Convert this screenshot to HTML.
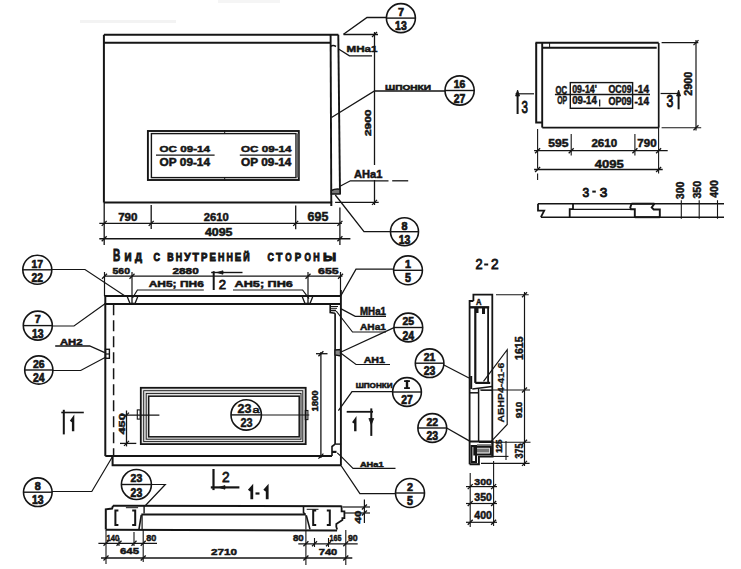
<!DOCTYPE html>
<html><head><meta charset="utf-8"><style>
html,body{margin:0;padding:0;background:#fff;}
svg{display:block;}
</style></head><body>
<svg width="741" height="569" viewBox="0 0 741 569">
<rect width="741" height="569" fill="#ffffff"/>
<rect x="80" y="20" width="96" height="3" fill="#f3f3f3"/>
<rect x="218" y="0" width="62" height="3" fill="#f5f5f5"/>
<polyline points="103.9,34.8 338.4,34.8" fill="none" stroke="#151515" stroke-width="2.0"/>
<polyline points="103.9,42.8 330.6,42.8" fill="none" stroke="#151515" stroke-width="2.0"/>
<polyline points="103.9,34.8 103.9,202.6" fill="none" stroke="#151515" stroke-width="2.0"/>
<polyline points="103.9,202.6 331.3,202.6 331.3,206.0" fill="none" stroke="#151515" stroke-width="2.0"/>
<polyline points="330.6,34.8 331.3,202.6" fill="none" stroke="#151515" stroke-width="1.9"/>
<polyline points="338.3,34.8 340.0,194.0" fill="none" stroke="#151515" stroke-width="1.9"/>
<path d="M330.6,46.5 Q333,44.5 336,46.5" fill="none" stroke="#151515" stroke-width="1.6"/>
<path d="M331.3,194 L331.3,190.5 Q335,188.5 340,189.2 L340,194 Z" fill="#777" stroke="#151515" stroke-width="1.5"/>
<rect x="147.9" y="131.0" width="150.9" height="49.0" fill="none" stroke="#151515" stroke-width="1.9"/>
<rect x="151.4" y="133.6" width="144.6" height="44.0" fill="none" stroke="#151515" stroke-width="1.4"/>
<rect x="296" y="133.5" width="2.5" height="44" fill="#666"/>
<polyline points="224.7,130.3 224.7,133.3" fill="none" stroke="#151515" stroke-width="1.0"/>
<polyline points="224.7,177.4 224.7,180.1" fill="none" stroke="#151515" stroke-width="1.0"/>
<text x="159.5" y="152.1" font-family="Liberation Sans" font-weight="bold" font-size="9.58" textLength="50.5" lengthAdjust="spacingAndGlyphs" fill="#151515" stroke="#151515" stroke-width="0.5">ОС 09-14</text>
<polyline points="156.0,155.1 214.6,155.1" fill="none" stroke="#151515" stroke-width="1.4"/>
<text x="159.5" y="165.6" font-family="Liberation Sans" font-weight="bold" font-size="10.14" textLength="50.5" lengthAdjust="spacingAndGlyphs" fill="#151515" stroke="#151515" stroke-width="0.5">ОР 09-14</text>
<text x="241.0" y="152.1" font-family="Liberation Sans" font-weight="bold" font-size="9.58" textLength="50.4" lengthAdjust="spacingAndGlyphs" fill="#151515" stroke="#151515" stroke-width="0.5">ОС 09-14</text>
<polyline points="239.8,155.1 291.4,155.1" fill="none" stroke="#151515" stroke-width="1.4"/>
<text x="241.0" y="165.6" font-family="Liberation Sans" font-weight="bold" font-size="10.14" textLength="50.4" lengthAdjust="spacingAndGlyphs" fill="#151515" stroke="#151515" stroke-width="0.5">ОР 09-14</text>
<circle cx="400.9" cy="18.1" r="14.5" fill="none" stroke="#151515" stroke-width="1.6"/>
<polyline points="386.4,18.1 415.4,18.1" fill="none" stroke="#151515" stroke-width="1.4"/>
<text x="397.9" y="15.9" font-family="Liberation Sans" font-weight="bold" font-size="11.53" textLength="6.0" lengthAdjust="spacingAndGlyphs" fill="#151515" stroke="#151515" stroke-width="0.7">7</text>
<text x="395.1" y="30.1" font-family="Liberation Sans" font-weight="bold" font-size="12.22" textLength="11.6" lengthAdjust="spacingAndGlyphs" fill="#151515" stroke="#151515" stroke-width="0.7">13</text>
<polyline points="386.5,17.5 367.0,17.5 343.5,34.3" fill="none" stroke="#151515" stroke-width="1.4"/>
<polyline points="343.5,34.5 378.0,34.5" fill="none" stroke="#151515" stroke-width="1.3"/>
<text x="346.6" y="51.8" font-family="Liberation Sans" font-weight="bold" font-size="9.58" textLength="30.9" lengthAdjust="spacingAndGlyphs" fill="#151515" stroke="#151515" stroke-width="0.5">МНа1</text>
<polyline points="338.2,48.7 349.4,55.8 372.0,55.8" fill="none" stroke="#151515" stroke-width="1.3"/>
<text x="385.0" y="89.5" font-family="Liberation Sans" font-weight="bold" font-size="7.64" textLength="46.0" lengthAdjust="spacingAndGlyphs" fill="#151515" stroke="#151515" stroke-width="0.5">ШПОНКИ</text>
<polyline points="331.5,117.5 374.5,91.0 445.0,91.0" fill="none" stroke="#151515" stroke-width="1.3"/>
<circle cx="459.6" cy="90.5" r="14.6" fill="none" stroke="#151515" stroke-width="1.6"/>
<polyline points="445.0,90.5 474.2,90.5" fill="none" stroke="#151515" stroke-width="1.4"/>
<text x="453.8" y="88.3" font-family="Liberation Sans" font-weight="bold" font-size="11.53" textLength="11.6" lengthAdjust="spacingAndGlyphs" fill="#151515" stroke="#151515" stroke-width="0.7">16</text>
<text x="453.8" y="102.5" font-family="Liberation Sans" font-weight="bold" font-size="12.22" textLength="11.6" lengthAdjust="spacingAndGlyphs" fill="#151515" stroke="#151515" stroke-width="0.7">27</text>
<polyline points="374.5,32.0 374.5,165.0" fill="none" stroke="#151515" stroke-width="1.3"/>
<polyline points="374.5,180.0 374.5,205.0" fill="none" stroke="#151515" stroke-width="1.3"/>
<polyline points="335.1,202.4 378.7,202.4" fill="none" stroke="#151515" stroke-width="1.3"/>
<polyline points="372.0,37.0 377.0,32.0" fill="none" stroke="#151515" stroke-width="1.3"/>
<polyline points="372.0,204.9 377.0,199.9" fill="none" stroke="#151515" stroke-width="1.3"/>
<text x="354.5" y="126.0" transform="rotate(-90 367.8 122.8)" font-family="Liberation Sans" font-weight="bold" font-size="9.03" textLength="26.5" lengthAdjust="spacingAndGlyphs" fill="#151515" stroke="#151515" stroke-width="0.5">2900</text>
<text x="354.1" y="177.6" font-family="Liberation Sans" font-weight="bold" font-size="10.28" textLength="28.3" lengthAdjust="spacingAndGlyphs" fill="#151515" stroke="#151515" stroke-width="0.5">АНа1</text>
<polyline points="340.0,186.3 350.4,180.8 388.5,180.8" fill="none" stroke="#151515" stroke-width="1.3"/>
<polyline points="392.2,180.8 408.2,180.8" fill="none" stroke="#151515" stroke-width="1.3"/>
<polyline points="335.3,195.0 364.0,231.7 390.5,231.7" fill="none" stroke="#151515" stroke-width="1.3"/>
<circle cx="404.5" cy="231.7" r="14.0" fill="none" stroke="#151515" stroke-width="1.6"/>
<polyline points="390.5,231.7 418.5,231.7" fill="none" stroke="#151515" stroke-width="1.4"/>
<text x="401.5" y="229.5" font-family="Liberation Sans" font-weight="bold" font-size="11.53" textLength="6.0" lengthAdjust="spacingAndGlyphs" fill="#151515" stroke="#151515" stroke-width="0.7">8</text>
<text x="398.7" y="243.7" font-family="Liberation Sans" font-weight="bold" font-size="12.22" textLength="11.6" lengthAdjust="spacingAndGlyphs" fill="#151515" stroke="#151515" stroke-width="0.7">13</text>
<polyline points="99.3,223.4 341.9,223.4" fill="none" stroke="#151515" stroke-width="1.4"/>
<polyline points="99.3,238.8 350.4,238.8" fill="none" stroke="#151515" stroke-width="1.4"/>
<polyline points="104.2,202.6 104.2,245.0" fill="none" stroke="#151515" stroke-width="1.3"/>
<polyline points="151.2,205.0 151.2,229.0" fill="none" stroke="#151515" stroke-width="1.3"/>
<polyline points="295.7,205.5 295.7,229.2" fill="none" stroke="#151515" stroke-width="1.3"/>
<polyline points="339.9,207.4 339.9,245.0" fill="none" stroke="#151515" stroke-width="1.3"/>
<polyline points="101.7,225.9 106.7,220.9" fill="none" stroke="#151515" stroke-width="1.3"/>
<polyline points="148.7,225.9 153.7,220.9" fill="none" stroke="#151515" stroke-width="1.3"/>
<polyline points="293.2,225.9 298.2,220.9" fill="none" stroke="#151515" stroke-width="1.3"/>
<polyline points="337.4,225.9 342.4,220.9" fill="none" stroke="#151515" stroke-width="1.3"/>
<polyline points="101.7,241.3 106.7,236.3" fill="none" stroke="#151515" stroke-width="1.3"/>
<polyline points="337.4,241.3 342.4,236.3" fill="none" stroke="#151515" stroke-width="1.3"/>
<text x="118.2" y="221.4" font-family="Liberation Sans" font-weight="bold" font-size="10.69" textLength="19.3" lengthAdjust="spacingAndGlyphs" fill="#151515" stroke="#151515" stroke-width="0.5">790</text>
<text x="203.7" y="221.4" font-family="Liberation Sans" font-weight="bold" font-size="10.69" textLength="25.0" lengthAdjust="spacingAndGlyphs" fill="#151515" stroke="#151515" stroke-width="0.5">2610</text>
<text x="307.6" y="221.4" font-family="Liberation Sans" font-weight="bold" font-size="12.08" textLength="20.7" lengthAdjust="spacingAndGlyphs" fill="#151515" stroke="#151515" stroke-width="0.5">695</text>
<text x="205.0" y="236.2" font-family="Liberation Sans" font-weight="bold" font-size="10.42" textLength="27.5" lengthAdjust="spacingAndGlyphs" fill="#151515" stroke="#151515" stroke-width="0.5">4095</text>
<text x="113.1" y="261.0" font-family="Liberation Sans" font-weight="bold" font-size="15.69" textLength="7.3" lengthAdjust="spacingAndGlyphs" fill="#151515" stroke="#151515" stroke-width="0.9">В</text>
<text x="124.4" y="261.0" font-family="Liberation Sans" font-weight="bold" font-size="10.42" textLength="7.0" lengthAdjust="spacingAndGlyphs" fill="#151515" stroke="#151515" stroke-width="0.9">И</text>
<text x="135.0" y="261.0" font-family="Liberation Sans" font-weight="bold" font-size="10.42" textLength="7.0" lengthAdjust="spacingAndGlyphs" fill="#151515" stroke="#151515" stroke-width="0.9">Д</text>
<text x="153.6" y="261.0" font-family="Liberation Sans" font-weight="bold" font-size="10.42" textLength="6.5" lengthAdjust="spacingAndGlyphs" fill="#151515" stroke="#151515" stroke-width="0.9">С</text>
<text x="167.3" y="260.8" font-family="Liberation Sans" font-weight="bold" font-size="10.56" textLength="6.4" lengthAdjust="spacingAndGlyphs" fill="#151515" stroke="#151515" stroke-width="0.9">В</text>
<text x="175.7" y="260.8" font-family="Liberation Sans" font-weight="bold" font-size="10.56" textLength="6.4" lengthAdjust="spacingAndGlyphs" fill="#151515" stroke="#151515" stroke-width="0.9">Н</text>
<text x="184.2" y="260.8" font-family="Liberation Sans" font-weight="bold" font-size="10.56" textLength="6.4" lengthAdjust="spacingAndGlyphs" fill="#151515" stroke="#151515" stroke-width="0.9">У</text>
<text x="192.6" y="260.8" font-family="Liberation Sans" font-weight="bold" font-size="10.56" textLength="6.4" lengthAdjust="spacingAndGlyphs" fill="#151515" stroke="#151515" stroke-width="0.9">Т</text>
<text x="201.1" y="260.8" font-family="Liberation Sans" font-weight="bold" font-size="10.56" textLength="6.4" lengthAdjust="spacingAndGlyphs" fill="#151515" stroke="#151515" stroke-width="0.9">Р</text>
<text x="209.5" y="260.8" font-family="Liberation Sans" font-weight="bold" font-size="10.56" textLength="6.4" lengthAdjust="spacingAndGlyphs" fill="#151515" stroke="#151515" stroke-width="0.9">Е</text>
<text x="217.9" y="260.8" font-family="Liberation Sans" font-weight="bold" font-size="10.56" textLength="6.4" lengthAdjust="spacingAndGlyphs" fill="#151515" stroke="#151515" stroke-width="0.9">Н</text>
<text x="226.4" y="260.8" font-family="Liberation Sans" font-weight="bold" font-size="10.56" textLength="6.4" lengthAdjust="spacingAndGlyphs" fill="#151515" stroke="#151515" stroke-width="0.9">Н</text>
<text x="234.8" y="260.8" font-family="Liberation Sans" font-weight="bold" font-size="10.56" textLength="6.4" lengthAdjust="spacingAndGlyphs" fill="#151515" stroke="#151515" stroke-width="0.9">Е</text>
<text x="243.3" y="260.8" font-family="Liberation Sans" font-weight="bold" font-size="10.56" textLength="6.4" lengthAdjust="spacingAndGlyphs" fill="#151515" stroke="#151515" stroke-width="0.9">Й</text>
<text x="267.6" y="260.7" font-family="Liberation Sans" font-weight="bold" font-size="10.69" textLength="6.4" lengthAdjust="spacingAndGlyphs" fill="#151515" stroke="#151515" stroke-width="0.9">С</text>
<text x="276.0" y="260.7" font-family="Liberation Sans" font-weight="bold" font-size="10.69" textLength="6.4" lengthAdjust="spacingAndGlyphs" fill="#151515" stroke="#151515" stroke-width="0.9">Т</text>
<text x="285.2" y="260.7" font-family="Liberation Sans" font-weight="bold" font-size="10.69" textLength="6.4" lengthAdjust="spacingAndGlyphs" fill="#151515" stroke="#151515" stroke-width="0.9">О</text>
<text x="294.8" y="260.7" font-family="Liberation Sans" font-weight="bold" font-size="10.69" textLength="6.4" lengthAdjust="spacingAndGlyphs" fill="#151515" stroke="#151515" stroke-width="0.9">Р</text>
<text x="304.5" y="260.7" font-family="Liberation Sans" font-weight="bold" font-size="10.69" textLength="6.4" lengthAdjust="spacingAndGlyphs" fill="#151515" stroke="#151515" stroke-width="0.9">О</text>
<text x="313.2" y="260.7" font-family="Liberation Sans" font-weight="bold" font-size="10.69" textLength="6.4" lengthAdjust="spacingAndGlyphs" fill="#151515" stroke="#151515" stroke-width="0.9">Н</text>
<text x="322.9" y="260.7" font-family="Liberation Sans" font-weight="bold" font-size="10.69" textLength="13.1" lengthAdjust="spacingAndGlyphs" fill="#151515" stroke="#151515" stroke-width="0.9">Ы</text>
<polyline points="104.5,296.0 340.7,296.0" fill="none" stroke="#151515" stroke-width="2.0"/>
<polyline points="104.5,303.9 340.7,303.9" fill="none" stroke="#151515" stroke-width="2.0"/>
<polyline points="105.3,296.0 105.3,456.1" fill="none" stroke="#151515" stroke-width="2.0"/>
<polyline points="113.6,304.2 113.6,455.0" fill="none" stroke="#151515" stroke-width="1.5" stroke-dasharray="11 5"/>
<polyline points="340.9,290.0 340.9,465.2" fill="none" stroke="#151515" stroke-width="1.9"/>
<polyline points="335.1,313.2 335.1,444.1" fill="none" stroke="#151515" stroke-width="1.7"/>
<polyline points="105.3,456.1 332.0,456.1" fill="none" stroke="#151515" stroke-width="2.0"/>
<polyline points="112.6,456.1 112.6,465.2 341.4,465.2" fill="none" stroke="#151515" stroke-width="2.0"/>
<polyline points="330.2,303.9 330.2,312.5 335.1,313.2" fill="none" stroke="#151515" stroke-width="1.6"/>
<polyline points="330.2,306.5 338.0,306.5" fill="none" stroke="#151515" stroke-width="1.0"/>
<polyline points="330.2,308.3 337.0,308.3" fill="none" stroke="#151515" stroke-width="1.0"/>
<polyline points="330.2,310.5 336.0,310.5" fill="none" stroke="#151515" stroke-width="1.6"/>
<polyline points="335.1,444.1 341.1,444.1" fill="none" stroke="#151515" stroke-width="1.4"/>
<polyline points="335.1,444.1 332.0,446.5 332.0,456.1" fill="none" stroke="#151515" stroke-width="1.6"/>
<polyline points="332.0,451.9 336.5,451.9" fill="none" stroke="#151515" stroke-width="2.2"/>
<polyline points="127.0,296.0 130.0,303.5 135.0,303.5 138.0,296.0" fill="none" stroke="#151515" stroke-width="1.3"/>
<polyline points="132.0,297.0 132.0,303.0" fill="none" stroke="#151515" stroke-width="1.3"/>
<polyline points="302.0,296.0 305.0,303.5 310.0,303.5 313.0,296.0" fill="none" stroke="#151515" stroke-width="1.3"/>
<polyline points="308.0,297.0 308.0,303.0" fill="none" stroke="#151515" stroke-width="1.3"/>
<rect x="105.5" y="349.3" width="3.9" height="9.0" fill="none" stroke="#151515" stroke-width="1.4"/>
<polyline points="105.5,354.0 109.4,354.0" fill="none" stroke="#151515" stroke-width="1.2"/>
<polygon points="335.0,350.0 340.5,349.5 340.5,356.0 335.0,355.0" fill="#888" stroke="#151515" stroke-width="1.3"/>
<rect x="141.5" y="388.5" width="163.4" height="55" fill="#e2e2e2" stroke="none"/>
<rect x="148.7" y="396.2" width="150.5" height="40.6" fill="#fff" stroke="#151515" stroke-width="1.5"/>
<rect x="140.8" y="387.8" width="164.9" height="56.3" fill="none" stroke="#151515" stroke-width="1.8"/>
<rect x="143.7" y="390.7" width="159.1" height="50.9" fill="none" stroke="#151515" stroke-width="0.9"/>
<rect x="146.2" y="393.4" width="154.8" height="45.8" fill="none" stroke="#151515" stroke-width="0.9"/>
<circle cx="246.2" cy="414.9" r="15.2" fill="none" stroke="#151515" stroke-width="1.6"/>
<polyline points="231.0,414.9 261.4,414.9" fill="none" stroke="#151515" stroke-width="1.4"/>
<text x="237.6" y="412.5" font-family="Liberation Sans" font-weight="bold" font-size="12.64" textLength="13.9" lengthAdjust="spacingAndGlyphs" fill="#151515" stroke="#151515" stroke-width="0.5">23</text>
<text x="252.5" y="412.5" font-family="Liberation Sans" font-weight="normal" font-size="9.72" textLength="7.0" lengthAdjust="spacingAndGlyphs" fill="#151515" stroke="#151515" stroke-width="0.6">а</text>
<text x="240.5" y="427.1" font-family="Liberation Sans" font-weight="bold" font-size="13.19" textLength="12.1" lengthAdjust="spacingAndGlyphs" fill="#151515" stroke="#151515" stroke-width="0.5">23</text>
<polyline points="261.4,415.0 309.3,415.0" fill="none" stroke="#151515" stroke-width="1.2"/>
<rect x="305.3" y="410.5" width="2.6" height="9.1" fill="none" stroke="#151515" stroke-width="1.1"/>
<rect x="137.3" y="409.9" width="2.9" height="9.2" fill="none" stroke="#151515" stroke-width="1.1"/>
<polyline points="121.0,415.1 159.4,415.1" fill="none" stroke="#151515" stroke-width="1.2"/>
<polyline points="126.5,410.5 126.5,446.4" fill="none" stroke="#151515" stroke-width="1.3"/>
<polyline points="120.0,443.4 136.3,443.4" fill="none" stroke="#151515" stroke-width="1.3"/>
<polyline points="124.0,417.6 129.0,412.6" fill="none" stroke="#151515" stroke-width="1.3"/>
<polyline points="124.0,445.9 129.0,440.9" fill="none" stroke="#151515" stroke-width="1.3"/>
<text x="111.4" y="427.4" transform="rotate(-90 122.0 423.9)" font-family="Liberation Sans" font-weight="bold" font-size="9.86" textLength="21.3" lengthAdjust="spacingAndGlyphs" fill="#151515" stroke="#151515" stroke-width="0.5">450</text>
<polyline points="320.9,352.0 320.9,458.0" fill="none" stroke="#151515" stroke-width="1.3"/>
<polyline points="316.0,353.7 327.5,353.7" fill="none" stroke="#151515" stroke-width="1.3"/>
<polyline points="318.4,356.2 323.4,351.2" fill="none" stroke="#151515" stroke-width="1.3"/>
<polyline points="318.4,458.6 323.4,453.6" fill="none" stroke="#151515" stroke-width="1.3"/>
<text x="303.9" y="404.1" transform="rotate(-90 314.6 400.9)" font-family="Liberation Sans" font-weight="bold" font-size="9.03" textLength="21.3" lengthAdjust="spacingAndGlyphs" fill="#151515" stroke="#151515" stroke-width="0.5">1800</text>
<polyline points="104.0,276.2 342.5,276.2" fill="none" stroke="#151515" stroke-width="1.3"/>
<polyline points="104.5,272.0 104.5,296.0" fill="none" stroke="#151515" stroke-width="1.2"/>
<polyline points="102.0,278.7 107.0,273.7" fill="none" stroke="#151515" stroke-width="1.3"/>
<polyline points="132.0,272.0 132.0,296.0" fill="none" stroke="#151515" stroke-width="1.2"/>
<polyline points="129.5,278.7 134.5,273.7" fill="none" stroke="#151515" stroke-width="1.3"/>
<polyline points="308.0,272.0 308.0,296.0" fill="none" stroke="#151515" stroke-width="1.2"/>
<polyline points="305.5,278.7 310.5,273.7" fill="none" stroke="#151515" stroke-width="1.3"/>
<polyline points="340.5,272.0 340.5,296.0" fill="none" stroke="#151515" stroke-width="1.2"/>
<polyline points="338.0,278.7 343.0,273.7" fill="none" stroke="#151515" stroke-width="1.3"/>
<text x="112.5" y="273.7" font-family="Liberation Sans" font-weight="bold" font-size="8.61" textLength="17.5" lengthAdjust="spacingAndGlyphs" fill="#151515" stroke="#151515" stroke-width="0.5">560</text>
<text x="172.5" y="273.7" font-family="Liberation Sans" font-weight="bold" font-size="8.61" textLength="26.2" lengthAdjust="spacingAndGlyphs" fill="#151515" stroke="#151515" stroke-width="0.5">2880</text>
<text x="318.0" y="274.3" font-family="Liberation Sans" font-weight="bold" font-size="9.44" textLength="20.7" lengthAdjust="spacingAndGlyphs" fill="#151515" stroke="#151515" stroke-width="0.5">655</text>
<text x="148.7" y="287.3" font-family="Liberation Sans" font-weight="bold" font-size="8.89" textLength="55.1" lengthAdjust="spacingAndGlyphs" fill="#151515" stroke="#151515" stroke-width="0.5">АН5; ПН6</text>
<polyline points="132.5,298.0 137.4,290.0 203.8,290.0" fill="none" stroke="#151515" stroke-width="1.2"/>
<text x="234.6" y="287.3" font-family="Liberation Sans" font-weight="bold" font-size="8.89" textLength="58.3" lengthAdjust="spacingAndGlyphs" fill="#151515" stroke="#151515" stroke-width="0.5">АН5; ПН6</text>
<polyline points="233.0,290.0 302.6,290.0 309.0,298.7" fill="none" stroke="#151515" stroke-width="1.2"/>
<polyline points="213.7,271.2 213.7,290.0" fill="none" stroke="#151515" stroke-width="2.0"/>
<polyline points="211.2,272.5 242.5,272.5" fill="none" stroke="#151515" stroke-width="1.4"/>
<polygon points="217.0,272.5 223.0,270.8 223.0,274.2" fill="#151515" stroke="#151515" stroke-width="0.8"/>
<text x="218.7" y="289.2" font-family="Liberation Sans" font-weight="normal" font-size="12.78" textLength="7.3" lengthAdjust="spacingAndGlyphs" fill="#151515" stroke="#151515" stroke-width="0.8">2</text>
<circle cx="37.3" cy="269.8" r="14.5" fill="none" stroke="#151515" stroke-width="1.6"/>
<polyline points="22.8,269.8 51.8,269.8" fill="none" stroke="#151515" stroke-width="1.4"/>
<text x="31.5" y="267.6" font-family="Liberation Sans" font-weight="bold" font-size="11.53" textLength="11.6" lengthAdjust="spacingAndGlyphs" fill="#151515" stroke="#151515" stroke-width="0.7">17</text>
<text x="31.5" y="281.8" font-family="Liberation Sans" font-weight="bold" font-size="12.22" textLength="11.6" lengthAdjust="spacingAndGlyphs" fill="#151515" stroke="#151515" stroke-width="0.7">22</text>
<polyline points="52.0,269.5 85.0,269.5 125.0,296.0" fill="none" stroke="#151515" stroke-width="1.2"/>
<circle cx="37.8" cy="325.6" r="14.5" fill="none" stroke="#151515" stroke-width="1.6"/>
<polyline points="23.3,325.6 52.3,325.6" fill="none" stroke="#151515" stroke-width="1.4"/>
<text x="34.8" y="323.4" font-family="Liberation Sans" font-weight="bold" font-size="11.53" textLength="6.0" lengthAdjust="spacingAndGlyphs" fill="#151515" stroke="#151515" stroke-width="0.7">7</text>
<text x="32.0" y="337.6" font-family="Liberation Sans" font-weight="bold" font-size="12.22" textLength="11.6" lengthAdjust="spacingAndGlyphs" fill="#151515" stroke="#151515" stroke-width="0.7">13</text>
<polyline points="52.0,326.0 74.0,326.0 105.0,303.7" fill="none" stroke="#151515" stroke-width="1.2"/>
<text x="60.0" y="345.0" font-family="Liberation Sans" font-weight="bold" font-size="8.75" textLength="22.5" lengthAdjust="spacingAndGlyphs" fill="#151515" stroke="#151515" stroke-width="0.5">АН2</text>
<polyline points="55.2,346.0 89.7,346.0 104.8,352.7" fill="none" stroke="#151515" stroke-width="1.3"/>
<circle cx="38.8" cy="370.0" r="14.1" fill="none" stroke="#151515" stroke-width="1.6"/>
<polyline points="24.7,370.0 52.9,370.0" fill="none" stroke="#151515" stroke-width="1.4"/>
<text x="33.0" y="367.8" font-family="Liberation Sans" font-weight="bold" font-size="11.53" textLength="11.6" lengthAdjust="spacingAndGlyphs" fill="#151515" stroke="#151515" stroke-width="0.7">26</text>
<text x="33.0" y="382.0" font-family="Liberation Sans" font-weight="bold" font-size="12.22" textLength="11.6" lengthAdjust="spacingAndGlyphs" fill="#151515" stroke="#151515" stroke-width="0.7">24</text>
<polyline points="52.8,370.5 80.7,370.5 106.0,357.0" fill="none" stroke="#151515" stroke-width="1.2"/>
<polyline points="61.3,412.5 83.8,412.5" fill="none" stroke="#151515" stroke-width="1.6"/>
<polyline points="63.8,409.8 63.8,434.4" fill="none" stroke="#151515" stroke-width="2.0"/>
<polyline points="70.8,421.5 73.1,418.3 73.1,431.3" fill="none" stroke="#151515" stroke-width="2.4"/>
<circle cx="37.8" cy="492.2" r="14.3" fill="none" stroke="#151515" stroke-width="1.6"/>
<polyline points="23.5,492.2 52.1,492.2" fill="none" stroke="#151515" stroke-width="1.4"/>
<text x="34.8" y="490.0" font-family="Liberation Sans" font-weight="bold" font-size="11.53" textLength="6.0" lengthAdjust="spacingAndGlyphs" fill="#151515" stroke="#151515" stroke-width="0.7">8</text>
<text x="32.0" y="504.2" font-family="Liberation Sans" font-weight="bold" font-size="12.22" textLength="11.6" lengthAdjust="spacingAndGlyphs" fill="#151515" stroke="#151515" stroke-width="0.7">13</text>
<polyline points="52.0,491.5 91.8,491.5 112.4,456.7" fill="none" stroke="#151515" stroke-width="1.2"/>
<circle cx="408.0" cy="270.3" r="14.4" fill="none" stroke="#151515" stroke-width="1.6"/>
<polyline points="393.6,270.3 422.4,270.3" fill="none" stroke="#151515" stroke-width="1.4"/>
<text x="405.0" y="268.1" font-family="Liberation Sans" font-weight="bold" font-size="11.53" textLength="6.0" lengthAdjust="spacingAndGlyphs" fill="#151515" stroke="#151515" stroke-width="0.7">1</text>
<text x="405.0" y="282.3" font-family="Liberation Sans" font-weight="bold" font-size="12.22" textLength="6.0" lengthAdjust="spacingAndGlyphs" fill="#151515" stroke="#151515" stroke-width="0.7">5</text>
<polyline points="393.6,269.2 356.0,269.2 340.7,296.0" fill="none" stroke="#151515" stroke-width="1.3"/>
<text x="360.0" y="315.0" font-family="Liberation Sans" font-weight="bold" font-size="10.42" textLength="26.0" lengthAdjust="spacingAndGlyphs" fill="#151515" stroke="#151515" stroke-width="0.5">МНа1</text>
<polyline points="340.7,308.6 355.2,316.4 386.0,316.4" fill="none" stroke="#151515" stroke-width="1.2"/>
<text x="360.0" y="330.0" font-family="Liberation Sans" font-weight="bold" font-size="9.72" textLength="26.0" lengthAdjust="spacingAndGlyphs" fill="#151515" stroke="#151515" stroke-width="0.5">АНа1</text>
<polyline points="336.2,311.0 352.5,332.0 386.0,332.0" fill="none" stroke="#151515" stroke-width="1.2"/>
<circle cx="408.3" cy="327.5" r="14.4" fill="none" stroke="#151515" stroke-width="1.6"/>
<polyline points="393.9,327.5 422.7,327.5" fill="none" stroke="#151515" stroke-width="1.4"/>
<text x="402.5" y="325.3" font-family="Liberation Sans" font-weight="bold" font-size="11.53" textLength="11.6" lengthAdjust="spacingAndGlyphs" fill="#151515" stroke="#151515" stroke-width="0.7">25</text>
<text x="402.5" y="339.5" font-family="Liberation Sans" font-weight="bold" font-size="12.22" textLength="11.6" lengthAdjust="spacingAndGlyphs" fill="#151515" stroke="#151515" stroke-width="0.7">24</text>
<polyline points="394.0,327.7 340.0,352.5" fill="none" stroke="#151515" stroke-width="1.3"/>
<text x="363.7" y="362.5" font-family="Liberation Sans" font-weight="bold" font-size="9.03" textLength="21.3" lengthAdjust="spacingAndGlyphs" fill="#151515" stroke="#151515" stroke-width="0.5">АН1</text>
<polyline points="340.0,352.5 356.0,364.5 390.0,364.5" fill="none" stroke="#151515" stroke-width="1.2"/>
<circle cx="429.6" cy="363.2" r="14.3" fill="none" stroke="#151515" stroke-width="1.6"/>
<polyline points="415.3,363.2 443.9,363.2" fill="none" stroke="#151515" stroke-width="1.4"/>
<text x="423.8" y="361.0" font-family="Liberation Sans" font-weight="bold" font-size="11.53" textLength="11.6" lengthAdjust="spacingAndGlyphs" fill="#151515" stroke="#151515" stroke-width="0.7">21</text>
<text x="423.8" y="375.2" font-family="Liberation Sans" font-weight="bold" font-size="12.22" textLength="11.6" lengthAdjust="spacingAndGlyphs" fill="#151515" stroke="#151515" stroke-width="0.7">23</text>
<polyline points="443.9,365.0 469.0,378.0" fill="none" stroke="#151515" stroke-width="1.3"/>
<circle cx="407.0" cy="392.0" r="14.4" fill="none" stroke="#151515" stroke-width="1.6"/>
<polyline points="392.6,392.0 421.4,392.0" fill="none" stroke="#151515" stroke-width="1.4"/>
<text x="401.2" y="404.0" font-family="Liberation Sans" font-weight="bold" font-size="12.22" textLength="11.6" lengthAdjust="spacingAndGlyphs" fill="#151515" stroke="#151515" stroke-width="0.7">27</text>
<polyline points="404.1,381.1 409.9,381.1" fill="none" stroke="#151515" stroke-width="1.8"/>
<polyline points="404.1,388.1 409.9,388.1" fill="none" stroke="#151515" stroke-width="1.8"/>
<polyline points="407.0,380.2 407.0,389.0" fill="none" stroke="#151515" stroke-width="2.4"/>
<text x="355.7" y="388.4" font-family="Liberation Sans" font-weight="bold" font-size="6.81" textLength="36.8" lengthAdjust="spacingAndGlyphs" fill="#151515" stroke="#151515" stroke-width="0.5">ШПОНКИ</text>
<polyline points="338.4,410.6 352.0,391.6 392.6,391.6" fill="none" stroke="#151515" stroke-width="1.3"/>
<circle cx="432.3" cy="428.0" r="14.4" fill="none" stroke="#151515" stroke-width="1.6"/>
<polyline points="417.9,428.0 446.7,428.0" fill="none" stroke="#151515" stroke-width="1.4"/>
<text x="426.5" y="425.8" font-family="Liberation Sans" font-weight="bold" font-size="11.53" textLength="11.6" lengthAdjust="spacingAndGlyphs" fill="#151515" stroke="#151515" stroke-width="0.7">22</text>
<text x="426.5" y="440.0" font-family="Liberation Sans" font-weight="bold" font-size="12.22" textLength="11.6" lengthAdjust="spacingAndGlyphs" fill="#151515" stroke="#151515" stroke-width="0.7">23</text>
<polyline points="446.7,428.0 469.7,441.1" fill="none" stroke="#151515" stroke-width="1.3"/>
<polyline points="346.7,411.8 373.0,411.8" fill="none" stroke="#151515" stroke-width="1.8"/>
<polyline points="371.3,408.4 371.3,435.9" fill="none" stroke="#151515" stroke-width="2.0"/>
<polygon points="371.3,424.5 368.9,418.5 373.7,418.5" fill="#151515" stroke="#151515" stroke-width="0.8"/>
<polyline points="353.0,422.9 355.3,419.7 355.3,431.3" fill="none" stroke="#151515" stroke-width="2.4"/>
<text x="359.9" y="466.5" font-family="Liberation Sans" font-weight="bold" font-size="7.64" textLength="23.7" lengthAdjust="spacingAndGlyphs" fill="#151515" stroke="#151515" stroke-width="0.5">АНа1</text>
<polyline points="337.2,452.9 341.1,456.4 353.0,468.3 395.5,468.3" fill="none" stroke="#151515" stroke-width="1.2"/>
<polyline points="341.0,465.5 359.9,493.7 395.5,493.7" fill="none" stroke="#151515" stroke-width="1.3"/>
<circle cx="410.0" cy="493.0" r="14.5" fill="none" stroke="#151515" stroke-width="1.6"/>
<polyline points="395.5,493.0 424.5,493.0" fill="none" stroke="#151515" stroke-width="1.4"/>
<text x="407.0" y="490.8" font-family="Liberation Sans" font-weight="bold" font-size="11.53" textLength="6.0" lengthAdjust="spacingAndGlyphs" fill="#151515" stroke="#151515" stroke-width="0.7">2</text>
<text x="407.0" y="505.0" font-family="Liberation Sans" font-weight="bold" font-size="12.22" textLength="6.0" lengthAdjust="spacingAndGlyphs" fill="#151515" stroke="#151515" stroke-width="0.7">5</text>
<polyline points="213.5,469.0 213.5,490.1" fill="none" stroke="#151515" stroke-width="2.2"/>
<polyline points="210.8,487.4 239.4,487.4" fill="none" stroke="#151515" stroke-width="2.2"/>
<polygon points="219.0,487.4 225.0,485.6 225.0,489.2" fill="#151515" stroke="#151515" stroke-width="0.8"/>
<text x="222.1" y="482.0" font-family="Liberation Sans" font-weight="normal" font-size="15.00" textLength="7.6" lengthAdjust="spacingAndGlyphs" fill="#151515" stroke="#151515" stroke-width="0.8">2</text>
<polyline points="249.0,490.7 251.8,487.5 251.8,499.3" fill="none" stroke="#151515" stroke-width="2.8"/>
<polyline points="255.5,493.5 259.5,493.5" fill="none" stroke="#151515" stroke-width="2.2"/>
<polyline points="264.4,490.7 267.2,487.5 267.2,499.3" fill="none" stroke="#151515" stroke-width="2.8"/>
<circle cx="136.4" cy="484.5" r="15.0" fill="none" stroke="#151515" stroke-width="1.6"/>
<polyline points="121.4,484.5 151.4,484.5" fill="none" stroke="#151515" stroke-width="1.4"/>
<text x="130.6" y="482.3" font-family="Liberation Sans" font-weight="bold" font-size="11.53" textLength="11.6" lengthAdjust="spacingAndGlyphs" fill="#151515" stroke="#151515" stroke-width="0.7">23</text>
<text x="130.6" y="496.5" font-family="Liberation Sans" font-weight="bold" font-size="12.22" textLength="11.6" lengthAdjust="spacingAndGlyphs" fill="#151515" stroke="#151515" stroke-width="0.7">23</text>
<polyline points="151.4,484.5 165.3,484.5 145.0,506.0" fill="none" stroke="#151515" stroke-width="1.2"/>
<polyline points="113.0,505.8 341.6,506.2" fill="none" stroke="#151515" stroke-width="2.0"/>
<polyline points="141.3,514.6 305.5,514.6" fill="none" stroke="#151515" stroke-width="2.0"/>
<polyline points="105.8,529.8 337.1,530.6" fill="none" stroke="#151515" stroke-width="2.0"/>
<polyline points="113.0,505.8 112.1,508.5 105.8,509.3 105.8,529.6" fill="none" stroke="#151515" stroke-width="2.0"/>
<polyline points="144.1,506.0 144.1,513.6" fill="none" stroke="#151515" stroke-width="1.4"/>
<polyline points="138.9,529.6 141.3,515.0" fill="none" stroke="#151515" stroke-width="1.6"/>
<polyline points="142.1,515.0 142.1,529.6" fill="none" stroke="#151515" stroke-width="1.2"/>
<polyline points="125.9,507.7 138.1,507.7" fill="none" stroke="#151515" stroke-width="1.0"/>
<polyline points="303.5,506.0 303.5,512.6 305.5,514.6" fill="none" stroke="#151515" stroke-width="1.6"/>
<polyline points="306.3,515.4 310.0,529.4" fill="none" stroke="#151515" stroke-width="1.6"/>
<polyline points="305.9,515.0 305.9,529.6" fill="none" stroke="#151515" stroke-width="1.1"/>
<polyline points="306.7,509.3 318.5,509.3" fill="none" stroke="#151515" stroke-width="1.0"/>
<polyline points="341.6,505.8 341.6,511.4 344.4,511.4 344.4,518.2 342.4,518.2 342.4,519.9 336.3,523.9 336.3,526.7 337.1,529.6" fill="none" stroke="#151515" stroke-width="1.8"/>
<polyline points="118.4,510.5 115.4,510.5 115.4,525.0 118.4,525.0" fill="none" stroke="#151515" stroke-width="2.0"/>
<polyline points="132.2,510.5 135.2,510.5 135.2,525.0 132.2,525.0" fill="none" stroke="#151515" stroke-width="2.0"/>
<polyline points="316.2,510.5 313.2,510.5 313.2,525.0 316.2,525.0" fill="none" stroke="#151515" stroke-width="2.0"/>
<polyline points="326.8,510.5 329.8,510.5 329.8,525.0 326.8,525.0" fill="none" stroke="#151515" stroke-width="2.0"/>
<polyline points="98.4,543.3 157.0,543.3" fill="none" stroke="#151515" stroke-width="1.2"/>
<polyline points="298.3,543.8 357.7,543.8" fill="none" stroke="#151515" stroke-width="1.2"/>
<polyline points="101.0,558.0 352.3,558.0" fill="none" stroke="#151515" stroke-width="1.3"/>
<polyline points="106.0,530.0 106.0,564.0" fill="none" stroke="#151515" stroke-width="1.1"/>
<polyline points="119.0,538.0 119.0,546.0" fill="none" stroke="#151515" stroke-width="1.1"/>
<polyline points="134.0,532.0 134.0,546.0" fill="none" stroke="#151515" stroke-width="1.1"/>
<polyline points="143.2,530.0 143.2,562.0" fill="none" stroke="#151515" stroke-width="1.1"/>
<polyline points="305.9,530.0 305.9,565.0" fill="none" stroke="#151515" stroke-width="1.1"/>
<polyline points="314.5,538.0 314.5,547.0" fill="none" stroke="#151515" stroke-width="1.1"/>
<polyline points="328.5,538.0 328.5,547.0" fill="none" stroke="#151515" stroke-width="1.1"/>
<polyline points="345.8,530.0 345.8,565.0" fill="none" stroke="#151515" stroke-width="1.1"/>
<polyline points="103.5,545.8 108.5,540.8" fill="none" stroke="#151515" stroke-width="1.3"/>
<polyline points="116.5,545.8 121.5,540.8" fill="none" stroke="#151515" stroke-width="1.3"/>
<polyline points="131.5,545.8 136.5,540.8" fill="none" stroke="#151515" stroke-width="1.3"/>
<polyline points="140.7,545.8 145.7,540.8" fill="none" stroke="#151515" stroke-width="1.3"/>
<polyline points="303.4,546.3 308.4,541.3" fill="none" stroke="#151515" stroke-width="1.3"/>
<polyline points="312.0,546.3 317.0,541.3" fill="none" stroke="#151515" stroke-width="1.3"/>
<polyline points="326.0,546.3 331.0,541.3" fill="none" stroke="#151515" stroke-width="1.3"/>
<polyline points="343.3,546.3 348.3,541.3" fill="none" stroke="#151515" stroke-width="1.3"/>
<polyline points="103.5,560.5 108.5,555.5" fill="none" stroke="#151515" stroke-width="1.3"/>
<polyline points="140.7,560.5 145.7,555.5" fill="none" stroke="#151515" stroke-width="1.3"/>
<polyline points="303.4,560.5 308.4,555.5" fill="none" stroke="#151515" stroke-width="1.3"/>
<polyline points="343.3,560.5 348.3,555.5" fill="none" stroke="#151515" stroke-width="1.3"/>
<text x="106.5" y="540.9" font-family="Liberation Sans" font-weight="bold" font-size="9.58" textLength="12.8" lengthAdjust="spacingAndGlyphs" fill="#151515" stroke="#151515" stroke-width="0.5">140</text>
<text x="146.3" y="541.0" font-family="Liberation Sans" font-weight="bold" font-size="9.72" textLength="10.1" lengthAdjust="spacingAndGlyphs" fill="#151515" stroke="#151515" stroke-width="0.5">80</text>
<text x="120.0" y="554.4" font-family="Liberation Sans" font-weight="bold" font-size="9.44" textLength="19.0" lengthAdjust="spacingAndGlyphs" fill="#151515" stroke="#151515" stroke-width="0.5">645</text>
<text x="211.0" y="555.0" font-family="Liberation Sans" font-weight="bold" font-size="9.72" textLength="26.0" lengthAdjust="spacingAndGlyphs" fill="#151515" stroke="#151515" stroke-width="0.5">2710</text>
<text x="292.9" y="541.0" font-family="Liberation Sans" font-weight="bold" font-size="9.03" textLength="10.8" lengthAdjust="spacingAndGlyphs" fill="#151515" stroke="#151515" stroke-width="0.5">80</text>
<text x="329.6" y="541.0" font-family="Liberation Sans" font-weight="bold" font-size="9.03" textLength="11.9" lengthAdjust="spacingAndGlyphs" fill="#151515" stroke="#151515" stroke-width="0.5">165</text>
<text x="348.0" y="541.0" font-family="Liberation Sans" font-weight="bold" font-size="9.03" textLength="9.7" lengthAdjust="spacingAndGlyphs" fill="#151515" stroke="#151515" stroke-width="0.5">90</text>
<text x="318.8" y="555.0" font-family="Liberation Sans" font-weight="bold" font-size="9.03" textLength="18.4" lengthAdjust="spacingAndGlyphs" fill="#151515" stroke="#151515" stroke-width="0.5">740</text>
<polyline points="342.8,507.0 370.0,507.0" fill="none" stroke="#151515" stroke-width="1.2"/>
<polyline points="345.0,513.0 370.0,513.0" fill="none" stroke="#151515" stroke-width="1.2"/>
<polyline points="364.4,499.6 364.4,523.0" fill="none" stroke="#151515" stroke-width="1.2"/>
<polyline points="361.9,509.5 366.9,504.5" fill="none" stroke="#151515" stroke-width="1.3"/>
<polyline points="361.9,515.5 366.9,510.5" fill="none" stroke="#151515" stroke-width="1.3"/>
<text x="351.8" y="520.2" transform="rotate(-90 358.2 517.0)" font-family="Liberation Sans" font-weight="bold" font-size="9.03" textLength="13.0" lengthAdjust="spacingAndGlyphs" fill="#151515" stroke="#151515" stroke-width="0.5">40</text>
<text x="475.4" y="269.2" font-family="Liberation Sans" font-weight="normal" font-size="15.42" textLength="7.1" lengthAdjust="spacingAndGlyphs" fill="#151515" stroke="#151515" stroke-width="0.9">2</text>
<polyline points="484.2,264.5 488.2,264.5" fill="none" stroke="#151515" stroke-width="2.0"/>
<text x="491.0" y="269.2" font-family="Liberation Sans" font-weight="normal" font-size="15.42" textLength="7.6" lengthAdjust="spacingAndGlyphs" fill="#151515" stroke="#151515" stroke-width="0.9">2</text>
<polyline points="473.4,301.0 473.4,294.7 492.3,294.7 492.3,456.6" fill="none" stroke="#151515" stroke-width="1.8"/>
<polyline points="473.4,301.0 469.6,301.0 469.6,464.3" fill="none" stroke="#151515" stroke-width="1.8"/>
<polyline points="469.6,307.3 489.2,307.3" fill="none" stroke="#151515" stroke-width="2.4"/>
<polyline points="475.3,307.0 475.3,382.9" fill="none" stroke="#151515" stroke-width="2.2"/>
<polyline points="488.1,307.0 488.1,382.9" fill="none" stroke="#151515" stroke-width="1.8"/>
<polyline points="475.3,382.9 490.2,382.9" fill="none" stroke="#151515" stroke-width="2.2"/>
<polyline points="471.2,376.0 471.2,389.0" fill="none" stroke="#151515" stroke-width="2.0"/>
<polyline points="472.3,389.0 492.0,386.5" fill="none" stroke="#151515" stroke-width="1.3"/>
<polyline points="481.1,390.3 492.0,390.3" fill="none" stroke="#151515" stroke-width="1.2"/>
<polyline points="469.6,392.8 478.6,392.8" fill="none" stroke="#151515" stroke-width="1.5"/>
<polyline points="478.6,388.5 478.6,441.5" fill="none" stroke="#151515" stroke-width="1.5"/>
<text x="476.0" y="305.0" font-family="Liberation Sans" font-weight="bold" font-size="9.72" textLength="5.5" lengthAdjust="spacingAndGlyphs" fill="#151515" stroke="#151515" stroke-width="0.5">А</text>
<rect x="475.5" y="307" width="3" height="6" fill="#151515"/>
<rect x="482" y="307" width="3" height="7" fill="#151515"/>
<polyline points="469.6,441.5 492.6,441.5 492.6,456.6 478.9,456.6 478.9,464.3 469.6,464.3" fill="none" stroke="#151515" stroke-width="1.9"/>
<polyline points="478.9,442.5 491.5,442.5" fill="none" stroke="#151515" stroke-width="1.0"/>
<polyline points="477.0,445.0 491.0,445.0" fill="none" stroke="#151515" stroke-width="1.0"/>
<rect x="474.3" y="446.8" width="16.5" height="7.7" fill="none" stroke="#151515" stroke-width="2.0"/>
<rect x="471.5" y="446.0" width="4.5" height="16.0" fill="none" stroke="#151515" stroke-width="2.0"/>
<rect x="477" y="448.5" width="12" height="4" fill="#777"/>
<polyline points="524.5,292.0 524.5,466.0" fill="none" stroke="#151515" stroke-width="1.2"/>
<polyline points="496.0,294.7 528.7,294.7" fill="none" stroke="#151515" stroke-width="1.1"/>
<polyline points="480.0,390.0 530.0,390.0" fill="none" stroke="#151515" stroke-width="1.1"/>
<polyline points="482.0,442.3 530.5,442.3" fill="none" stroke="#151515" stroke-width="1.1"/>
<polyline points="481.0,463.4 529.6,463.4" fill="none" stroke="#151515" stroke-width="1.1"/>
<polyline points="522.0,297.2 527.0,292.2" fill="none" stroke="#151515" stroke-width="1.3"/>
<polyline points="522.0,392.5 527.0,387.5" fill="none" stroke="#151515" stroke-width="1.3"/>
<polyline points="522.0,444.8 527.0,439.8" fill="none" stroke="#151515" stroke-width="1.3"/>
<polyline points="522.0,465.9 527.0,460.9" fill="none" stroke="#151515" stroke-width="1.3"/>
<text x="507.4" y="351.9" transform="rotate(-90 519.1 348.2)" font-family="Liberation Sans" font-weight="bold" font-size="10.14" textLength="23.5" lengthAdjust="spacingAndGlyphs" fill="#151515" stroke="#151515" stroke-width="0.5">1615</text>
<text x="510.7" y="413.4" transform="rotate(-90 519.0 409.9)" font-family="Liberation Sans" font-weight="bold" font-size="9.72" textLength="16.6" lengthAdjust="spacingAndGlyphs" fill="#151515" stroke="#151515" stroke-width="0.5">910</text>
<text x="511.2" y="454.8" transform="rotate(-90 518.8 451.0)" font-family="Liberation Sans" font-weight="bold" font-size="10.42" textLength="15.0" lengthAdjust="spacingAndGlyphs" fill="#151515" stroke="#151515" stroke-width="0.5">375</text>
<text x="492.7" y="449.4" transform="rotate(-90 499.3 446.2)" font-family="Liberation Sans" font-weight="bold" font-size="8.61" textLength="13.1" lengthAdjust="spacingAndGlyphs" fill="#151515" stroke="#151515" stroke-width="0.5">125</text>
<polyline points="506.0,441.0 506.0,460.0" fill="none" stroke="#151515" stroke-width="1.1"/>
<polyline points="493.0,456.4 508.5,456.4" fill="none" stroke="#151515" stroke-width="1.1"/>
<text x="470.3" y="396.1" transform="rotate(-90 500.2 392.7)" font-family="Liberation Sans" font-weight="bold" font-size="9.44" textLength="59.8" lengthAdjust="spacingAndGlyphs" fill="#151515" stroke="#151515" stroke-width="0.3">АБНР4-41-6</text>
<polyline points="483.5,381.3 507.2,349.7 507.2,424.4 491.5,441.1" fill="none" stroke="#151515" stroke-width="1.2"/>
<polyline points="470.2,473.0 470.2,527.0" fill="none" stroke="#151515" stroke-width="1.1"/>
<polyline points="493.6,461.0 493.6,526.0" fill="none" stroke="#151515" stroke-width="1.1"/>
<polyline points="466.0,486.6 497.0,486.6" fill="none" stroke="#151515" stroke-width="1.2"/>
<polyline points="467.7,489.1 472.7,484.1" fill="none" stroke="#151515" stroke-width="1.3"/>
<polyline points="491.1,489.1 496.1,484.1" fill="none" stroke="#151515" stroke-width="1.3"/>
<polyline points="466.0,503.5 497.0,503.5" fill="none" stroke="#151515" stroke-width="1.2"/>
<polyline points="467.7,506.0 472.7,501.0" fill="none" stroke="#151515" stroke-width="1.3"/>
<polyline points="491.1,506.0 496.1,501.0" fill="none" stroke="#151515" stroke-width="1.3"/>
<polyline points="466.0,522.3 497.0,522.3" fill="none" stroke="#151515" stroke-width="1.2"/>
<polyline points="467.7,524.8 472.7,519.8" fill="none" stroke="#151515" stroke-width="1.3"/>
<polyline points="491.1,524.8 496.1,519.8" fill="none" stroke="#151515" stroke-width="1.3"/>
<text x="474.3" y="484.8" font-family="Liberation Sans" font-weight="bold" font-size="9.72" textLength="17.5" lengthAdjust="spacingAndGlyphs" fill="#151515" stroke="#151515" stroke-width="0.5">300</text>
<text x="474.3" y="501.2" font-family="Liberation Sans" font-weight="bold" font-size="10.56" textLength="17.5" lengthAdjust="spacingAndGlyphs" fill="#151515" stroke="#151515" stroke-width="0.5">350</text>
<text x="474.3" y="518.8" font-family="Liberation Sans" font-weight="bold" font-size="10.56" textLength="17.5" lengthAdjust="spacingAndGlyphs" fill="#151515" stroke="#151515" stroke-width="0.5">400</text>
<polyline points="535.5,42.8 658.7,42.8" fill="none" stroke="#151515" stroke-width="2.0"/>
<polyline points="536.2,42.8 536.2,122.4 542.2,122.4" fill="none" stroke="#151515" stroke-width="2.0"/>
<polyline points="542.2,42.8 542.2,127.6" fill="none" stroke="#151515" stroke-width="1.9"/>
<polyline points="542.3,127.6 658.7,127.6" fill="none" stroke="#151515" stroke-width="1.7"/>
<polyline points="658.7,43.0 658.7,127.6" fill="none" stroke="#151515" stroke-width="1.7"/>
<polyline points="542.2,47.8 656.7,47.8" fill="none" stroke="#151515" stroke-width="1.9"/>
<polyline points="549.6,43.0 549.6,47.6" fill="none" stroke="#151515" stroke-width="1.0"/>
<rect x="570.3" y="82.6" width="62.3" height="25.7" fill="none" stroke="#151515" stroke-width="1.4"/>
<polyline points="554.9,94.5 650.0,94.5" fill="none" stroke="#151515" stroke-width="1.3"/>
<polyline points="599.7,99.6 599.7,106.4" fill="none" stroke="#151515" stroke-width="1.2"/>
<text x="555.6" y="93.6" font-family="Liberation Sans" font-weight="bold" font-size="10.56" textLength="11.6" lengthAdjust="spacingAndGlyphs" fill="#151515" stroke="#151515" stroke-width="0.5">ОС</text>
<text x="557.2" y="104.4" font-family="Liberation Sans" font-weight="bold" font-size="10.28" textLength="10.0" lengthAdjust="spacingAndGlyphs" fill="#151515" stroke="#151515" stroke-width="0.5">ОР</text>
<text x="572.2" y="93.2" font-family="Liberation Sans" font-weight="bold" font-size="10.69" textLength="24.6" lengthAdjust="spacingAndGlyphs" fill="#151515" stroke="#151515" stroke-width="0.5">09-14'</text>
<text x="572.2" y="104.4" font-family="Liberation Sans" font-weight="bold" font-size="10.28" textLength="24.6" lengthAdjust="spacingAndGlyphs" fill="#151515" stroke="#151515" stroke-width="0.5">09-14</text>
<text x="608.4" y="92.9" font-family="Liberation Sans" font-weight="bold" font-size="10.83" textLength="23.2" lengthAdjust="spacingAndGlyphs" fill="#151515" stroke="#151515" stroke-width="0.5">ОС09</text>
<text x="608.4" y="104.5" font-family="Liberation Sans" font-weight="bold" font-size="10.83" textLength="23.2" lengthAdjust="spacingAndGlyphs" fill="#151515" stroke="#151515" stroke-width="0.5">ОР09</text>
<text x="634.5" y="92.9" font-family="Liberation Sans" font-weight="bold" font-size="10.83" textLength="14.5" lengthAdjust="spacingAndGlyphs" fill="#151515" stroke="#151515" stroke-width="0.5">-14</text>
<text x="634.5" y="104.5" font-family="Liberation Sans" font-weight="bold" font-size="10.83" textLength="14.5" lengthAdjust="spacingAndGlyphs" fill="#151515" stroke="#151515" stroke-width="0.5">-14</text>
<polyline points="515.6,93.8 534.0,93.8" fill="none" stroke="#151515" stroke-width="1.2"/>
<polyline points="517.6,93.8 517.6,114.0" fill="none" stroke="#151515" stroke-width="2.0"/>
<polygon points="517.6,90.0 515.6,96.0 519.6,96.0" fill="#151515" stroke="#151515" stroke-width="0.8"/>
<text x="521.4" y="113.1" font-family="Liberation Sans" font-weight="normal" font-size="16.11" textLength="6.4" lengthAdjust="spacingAndGlyphs" fill="#151515" stroke="#151515" stroke-width="0.9">3</text>
<polyline points="660.6,93.5 679.0,93.5" fill="none" stroke="#151515" stroke-width="1.2"/>
<polyline points="678.6,93.5 678.6,109.3" fill="none" stroke="#151515" stroke-width="2.0"/>
<polygon points="678.6,90.0 676.6,96.0 680.6,96.0" fill="#151515" stroke="#151515" stroke-width="0.8"/>
<text x="666.4" y="107.4" font-family="Liberation Sans" font-weight="normal" font-size="16.11" textLength="6.8" lengthAdjust="spacingAndGlyphs" fill="#151515" stroke="#151515" stroke-width="0.9">3</text>
<polyline points="696.0,40.0 696.0,130.6" fill="none" stroke="#151515" stroke-width="1.2"/>
<polyline points="661.6,42.6 698.3,42.6" fill="none" stroke="#151515" stroke-width="1.1"/>
<polyline points="661.6,127.7 701.2,127.7" fill="none" stroke="#151515" stroke-width="1.1"/>
<polyline points="693.5,45.1 698.5,40.1" fill="none" stroke="#151515" stroke-width="1.3"/>
<polyline points="693.5,130.2 698.5,125.2" fill="none" stroke="#151515" stroke-width="1.3"/>
<text x="676.5" y="87.6" transform="rotate(-90 688.6 83.7)" font-family="Liberation Sans" font-weight="bold" font-size="10.69" textLength="24.2" lengthAdjust="spacingAndGlyphs" fill="#151515" stroke="#151515" stroke-width="0.5">2900</text>
<polyline points="537.6,129.0 537.6,168.5" fill="none" stroke="#151515" stroke-width="1.1"/>
<polyline points="571.2,134.0 571.2,155.4" fill="none" stroke="#151515" stroke-width="1.1"/>
<polyline points="634.9,134.0 634.9,155.4" fill="none" stroke="#151515" stroke-width="1.1"/>
<polyline points="658.6,125.0 658.6,173.6" fill="none" stroke="#151515" stroke-width="1.1"/>
<polyline points="537.6,173.6 537.6,180.0" fill="none" stroke="#151515" stroke-width="1.1"/>
<polyline points="534.1,150.7 667.7,150.7" fill="none" stroke="#151515" stroke-width="1.3"/>
<polyline points="534.1,169.5 662.7,169.5" fill="none" stroke="#151515" stroke-width="1.3"/>
<polyline points="535.1,153.2 540.1,148.2" fill="none" stroke="#151515" stroke-width="1.3"/>
<polyline points="568.7,153.2 573.7,148.2" fill="none" stroke="#151515" stroke-width="1.3"/>
<polyline points="632.4,153.2 637.4,148.2" fill="none" stroke="#151515" stroke-width="1.3"/>
<polyline points="656.1,153.2 661.1,148.2" fill="none" stroke="#151515" stroke-width="1.3"/>
<polyline points="535.1,172.0 540.1,167.0" fill="none" stroke="#151515" stroke-width="1.3"/>
<polyline points="656.1,172.0 661.1,167.0" fill="none" stroke="#151515" stroke-width="1.3"/>
<text x="548.3" y="147.3" font-family="Liberation Sans" font-weight="bold" font-size="10.69" textLength="20.2" lengthAdjust="spacingAndGlyphs" fill="#151515" stroke="#151515" stroke-width="0.5">595</text>
<text x="591.4" y="147.3" font-family="Liberation Sans" font-weight="bold" font-size="10.69" textLength="25.7" lengthAdjust="spacingAndGlyphs" fill="#151515" stroke="#151515" stroke-width="0.5">2610</text>
<text x="637.3" y="147.3" font-family="Liberation Sans" font-weight="bold" font-size="10.69" textLength="19.3" lengthAdjust="spacingAndGlyphs" fill="#151515" stroke="#151515" stroke-width="0.5">790</text>
<text x="594.8" y="167.5" font-family="Liberation Sans" font-weight="bold" font-size="11.25" textLength="29.0" lengthAdjust="spacingAndGlyphs" fill="#151515" stroke="#151515" stroke-width="0.5">4095</text>
<text x="582.6" y="196.6" font-family="Liberation Sans" font-weight="normal" font-size="13.19" textLength="6.7" lengthAdjust="spacingAndGlyphs" fill="#151515" stroke="#151515" stroke-width="0.9">3</text>
<polyline points="592.3,191.6 595.8,191.6" fill="none" stroke="#151515" stroke-width="2.0"/>
<text x="599.8" y="196.6" font-family="Liberation Sans" font-weight="normal" font-size="13.19" textLength="7.6" lengthAdjust="spacingAndGlyphs" fill="#151515" stroke="#151515" stroke-width="0.9">3</text>
<polyline points="538.0,203.7 724.0,203.7" fill="none" stroke="#151515" stroke-width="1.6"/>
<polyline points="540.9,217.2 724.0,217.2" fill="none" stroke="#151515" stroke-width="1.6"/>
<polyline points="538.0,203.7 538.0,210.6 544.2,210.6 540.9,217.2" fill="none" stroke="#151515" stroke-width="1.8"/>
<polyline points="573.0,203.7 573.0,209.2 569.7,209.2 569.7,217.2" fill="none" stroke="#151515" stroke-width="1.8"/>
<polyline points="573.0,209.4 631.0,209.4" fill="none" stroke="#151515" stroke-width="1.4"/>
<polyline points="631.5,203.7 630.3,207.5 631.0,209.3 634.8,209.3 634.8,217.2" fill="none" stroke="#151515" stroke-width="1.9"/>
<polyline points="631.5,203.7 654.4,203.7" fill="none" stroke="#151515" stroke-width="2.0"/>
<polyline points="634.8,217.2 659.8,217.2" fill="none" stroke="#151515" stroke-width="2.0"/>
<polyline points="654.4,203.7 651.7,207.5 653.7,209.5 659.8,209.5 659.8,217.2" fill="none" stroke="#151515" stroke-width="1.9"/>
<polyline points="681.3,200.2 681.3,218.8" fill="none" stroke="#151515" stroke-width="1.1"/>
<polyline points="699.2,200.2 699.2,218.8" fill="none" stroke="#151515" stroke-width="1.1"/>
<polyline points="717.5,200.2 717.5,218.8" fill="none" stroke="#151515" stroke-width="1.1"/>
<text x="671.0" y="194.2" transform="rotate(-90 679.8 190.4)" font-family="Liberation Sans" font-weight="bold" font-size="10.42" textLength="17.5" lengthAdjust="spacingAndGlyphs" fill="#151515" stroke="#151515" stroke-width="0.5">300</text>
<text x="688.5" y="193.6" transform="rotate(-90 697.2 189.8)" font-family="Liberation Sans" font-weight="bold" font-size="10.42" textLength="17.6" lengthAdjust="spacingAndGlyphs" fill="#151515" stroke="#151515" stroke-width="0.5">350</text>
<text x="705.6" y="192.8" transform="rotate(-90 714.4 188.9)" font-family="Liberation Sans" font-weight="bold" font-size="10.69" textLength="17.5" lengthAdjust="spacingAndGlyphs" fill="#151515" stroke="#151515" stroke-width="0.5">400</text>
</svg></body></html>
